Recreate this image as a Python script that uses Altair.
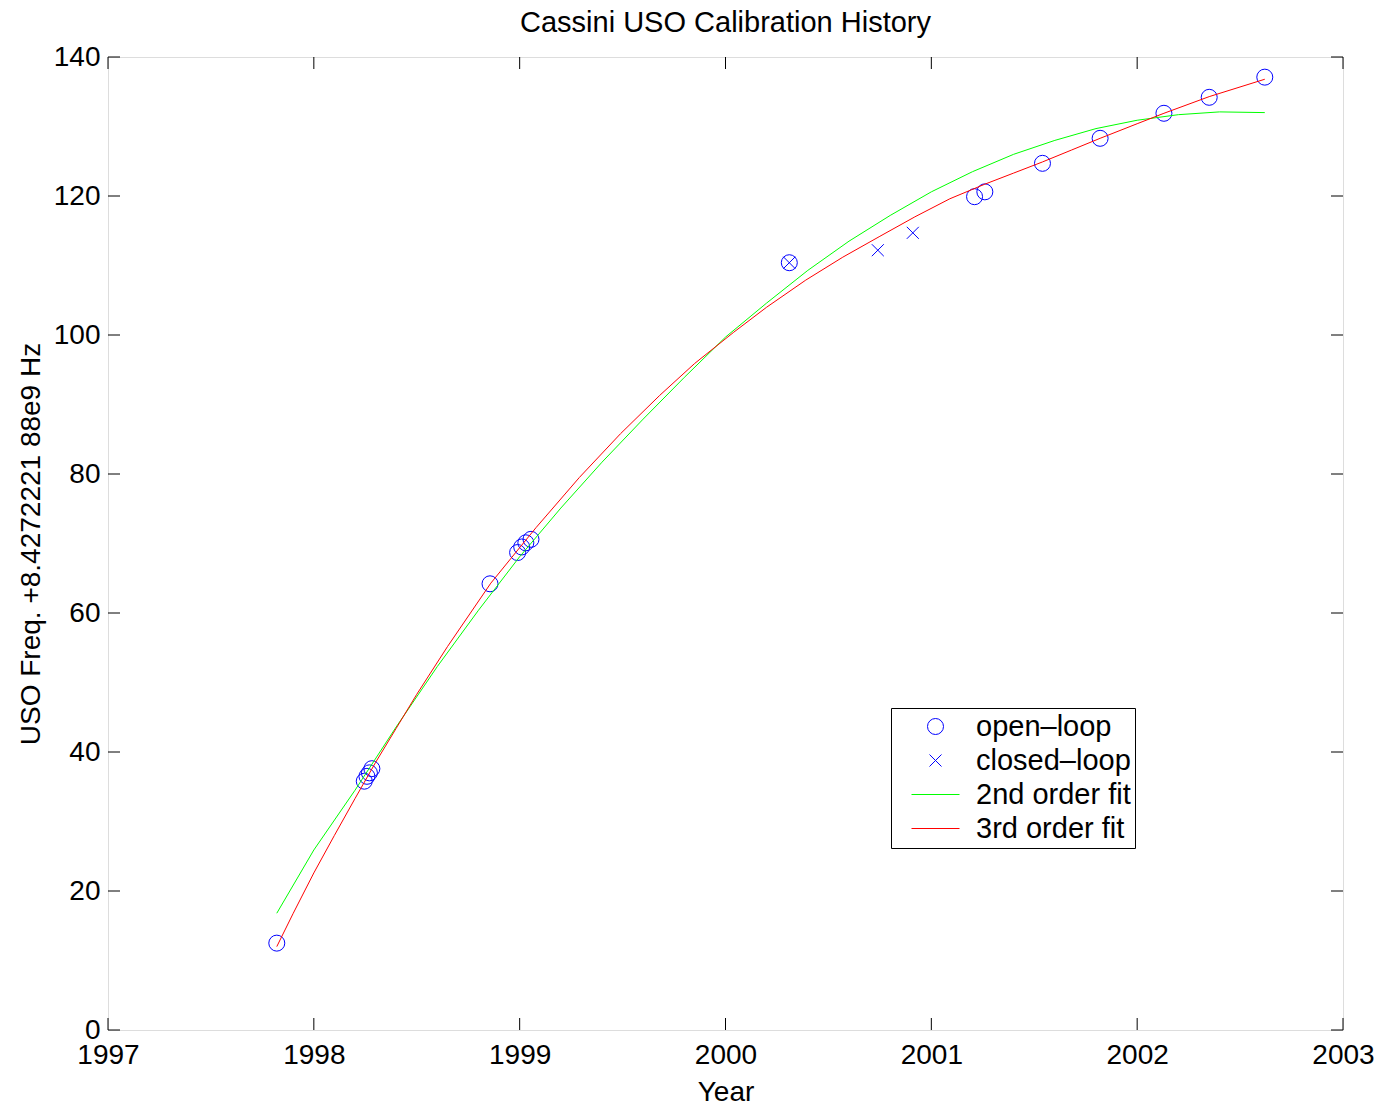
import altair as alt
import pandas as pd

# ---------------- data ----------------
open_years = [1997.82, 1998.245, 1998.258, 1998.27, 1998.282, 1998.856,
              1998.99, 1999.01, 1999.03, 1999.055, 2000.31,
              2001.21, 2001.26, 2001.54, 2001.82, 2002.13, 2002.35, 2002.62]
open_vals = [12.5, 35.8, 36.5, 37.0, 37.6, 64.2,
             68.7, 69.5, 70.1, 70.6, 110.4,
             119.9, 120.6, 124.7, 128.3, 131.9, 134.2, 137.1]

closed_years = [2000.31, 2000.74, 2000.91]
closed_vals = [110.4, 112.2, 114.7]

fit2_years = [1997.82, 1998.0, 1998.2, 1998.4, 1998.6, 1998.8, 1999.0, 1999.2,
              1999.4, 1999.6, 1999.8, 2000.0, 2000.2, 2000.4, 2000.6, 2000.8,
              2001.0, 2001.2, 2001.4, 2001.6, 2001.8, 2002.0, 2002.2, 2002.4, 2002.62]
fit2_vals = [16.8, 25.9, 34.5, 43.6, 52.3, 60.4, 68.1, 75.1,
             81.7, 87.9, 93.9, 99.7, 104.6, 109.3, 113.5, 117.2,
             120.6, 123.5, 126.0, 128.0, 129.7, 130.9, 131.7, 132.1, 132.0]

fit3_years = [1997.82, 1997.90, 1998.0, 1998.1, 1998.2, 1998.3, 1998.4, 1998.5,
              1998.65, 1998.86, 1999.0, 1999.08, 1999.29, 1999.49, 1999.68, 1999.85,
              2000.04, 2000.2, 2000.39, 2000.57, 2000.75, 2000.92, 2001.09, 2001.26,
              2001.4, 2001.54, 2001.68, 2001.82, 2002.0, 2002.13, 2002.35, 2002.62]
fit3_vals = [12.0, 16.8, 22.6, 28.0, 33.3, 38.5, 43.4, 48.3,
             55.2, 64.3, 69.4, 72.3, 79.5, 85.8, 91.3, 95.9,
             100.4, 104.0, 107.9, 111.2, 114.2, 117.0, 119.6, 121.7,
             123.3, 124.9, 126.6, 128.3, 130.4, 131.9, 134.3, 136.8]

x_ticks = [1997, 1998, 1999, 2000, 2001, 2002, 2003]
y_ticks = [0, 20, 40, 60, 80, 100, 120, 140]

series_names = ["open\u2013loop", "closed\u2013loop", "2nd order fit", "3rd order fit"]
series_colors = ["#0000ff", "#0000ff", "#00ff00", "#ff0000"]

title_text = "Cassini USO Calibration History"
x_title = "Year"
y_title = "USO Freq. +8.4272221 88e9 Hz"

# ---------------- tables ----------------
pts = pd.concat([
    pd.DataFrame({"year": open_years, "val": open_vals, "series": series_names[0]}),
    pd.DataFrame({"year": closed_years, "val": closed_vals, "series": series_names[1]}),
], ignore_index=True)

lines = pd.concat([
    pd.DataFrame({"year": fit2_years, "val": fit2_vals, "series": series_names[2],
                  "ord": range(len(fit2_years))}),
    pd.DataFrame({"year": fit3_years, "val": fit3_vals, "series": series_names[3],
                  "ord": range(len(fit3_years))}),
], ignore_index=True)

xt = pd.DataFrame({"year": x_ticks})
yt = pd.DataFrame({"val": y_ticks})

W, H = 1235, 973
FONT = "Liberation Sans"
FS = 28
FS_BIG = 29

X_PATH = "M-0.75,-0.75L0.75,0.75M-0.75,0.75L0.75,-0.75"
LINE_PATH = "M-3,0L3,0"

xscale = alt.Scale(domain=[1997, 2003], nice=False, zero=False)
yscale = alt.Scale(domain=[0, 140], nice=False, zero=False)

xaxis = alt.Axis(values=x_ticks, format="d", tickSize=0, domain=False, grid=False,
                 labelFontSize=FS, labelFont=FONT, labelColor="black", labelPadding=11,
                 title=x_title, titleFont=FONT, titleFontSize=FS, titleFontWeight="normal",
                 titleColor="black", titlePadding=9, labelFlush=False)
yaxis = alt.Axis(values=y_ticks, tickSize=0, domain=False, grid=False,
                 labelFontSize=FS, labelFont=FONT, labelColor="black", labelPadding=8,
                 title=y_title, titleFont=FONT, titleFontSize=FS, titleFontWeight="normal",
                 titleColor="black", titlePadding=8, labelFlush=False)

legend = alt.Legend(orient="none", legendX=783, legendY=651,
                    labelFont=FONT, labelFontSize=FS_BIG, labelColor="black",
                    symbolSize=256, symbolStrokeWidth=1, symbolOffset=26,
                    labelOffset=26, rowPadding=4, padding=4,
                    strokeColor="black", fillColor="white", labelLimit=400)

color_sc = alt.Scale(domain=series_names, range=series_colors)
shape_sc = alt.Scale(domain=series_names, range=["circle", X_PATH, LINE_PATH, LINE_PATH])

line_layer = alt.Chart(lines).mark_line(strokeWidth=1).encode(
    x=alt.X("year:Q", scale=xscale, axis=xaxis),
    y=alt.Y("val:Q", scale=yscale, axis=yaxis),
    color=alt.Color("series:N", scale=color_sc, legend=None),
    order="ord:Q",
)

point_layer = alt.Chart(pts).mark_point(filled=False, size=256, strokeWidth=1, opacity=1).encode(
    x=alt.X("year:Q"),
    y=alt.Y("val:Q"),
    color=alt.Color("series:N", scale=color_sc, legend=legend, title=""),
    shape=alt.Shape("series:N", scale=shape_sc, legend=legend, title=""),
)

TL = 12
tick_bottom = alt.Chart(xt).mark_rule(color="black", strokeWidth=1).encode(
    x="year:Q", y=alt.value(H), y2=alt.value(H - TL))
tick_top = alt.Chart(xt).mark_rule(color="black", strokeWidth=1).encode(
    x="year:Q", y=alt.value(0), y2=alt.value(TL))
tick_left = alt.Chart(yt).mark_rule(color="black", strokeWidth=1).encode(
    y="val:Q", x=alt.value(0), x2=alt.value(TL))
tick_right = alt.Chart(yt).mark_rule(color="black", strokeWidth=1).encode(
    y="val:Q", x=alt.value(W), x2=alt.value(W - TL))

chart = alt.layer(
    point_layer, line_layer, tick_bottom, tick_top, tick_left, tick_right
).properties(
    width=W, height=H,
    title=alt.Title(title_text, font=FONT, fontSize=FS_BIG, fontWeight="normal",
                    color="black", offset=5, anchor="middle"),
    autosize=alt.AutoSizeParams(type="none"),
    padding={"left": 108, "top": 57, "right": 37, "bottom": 75},
).configure_view(
    stroke="black", strokeWidth=1.5
).configure(background="white")

chart.save("out.html", embed_options={"renderer": "svg", "actions": False})
